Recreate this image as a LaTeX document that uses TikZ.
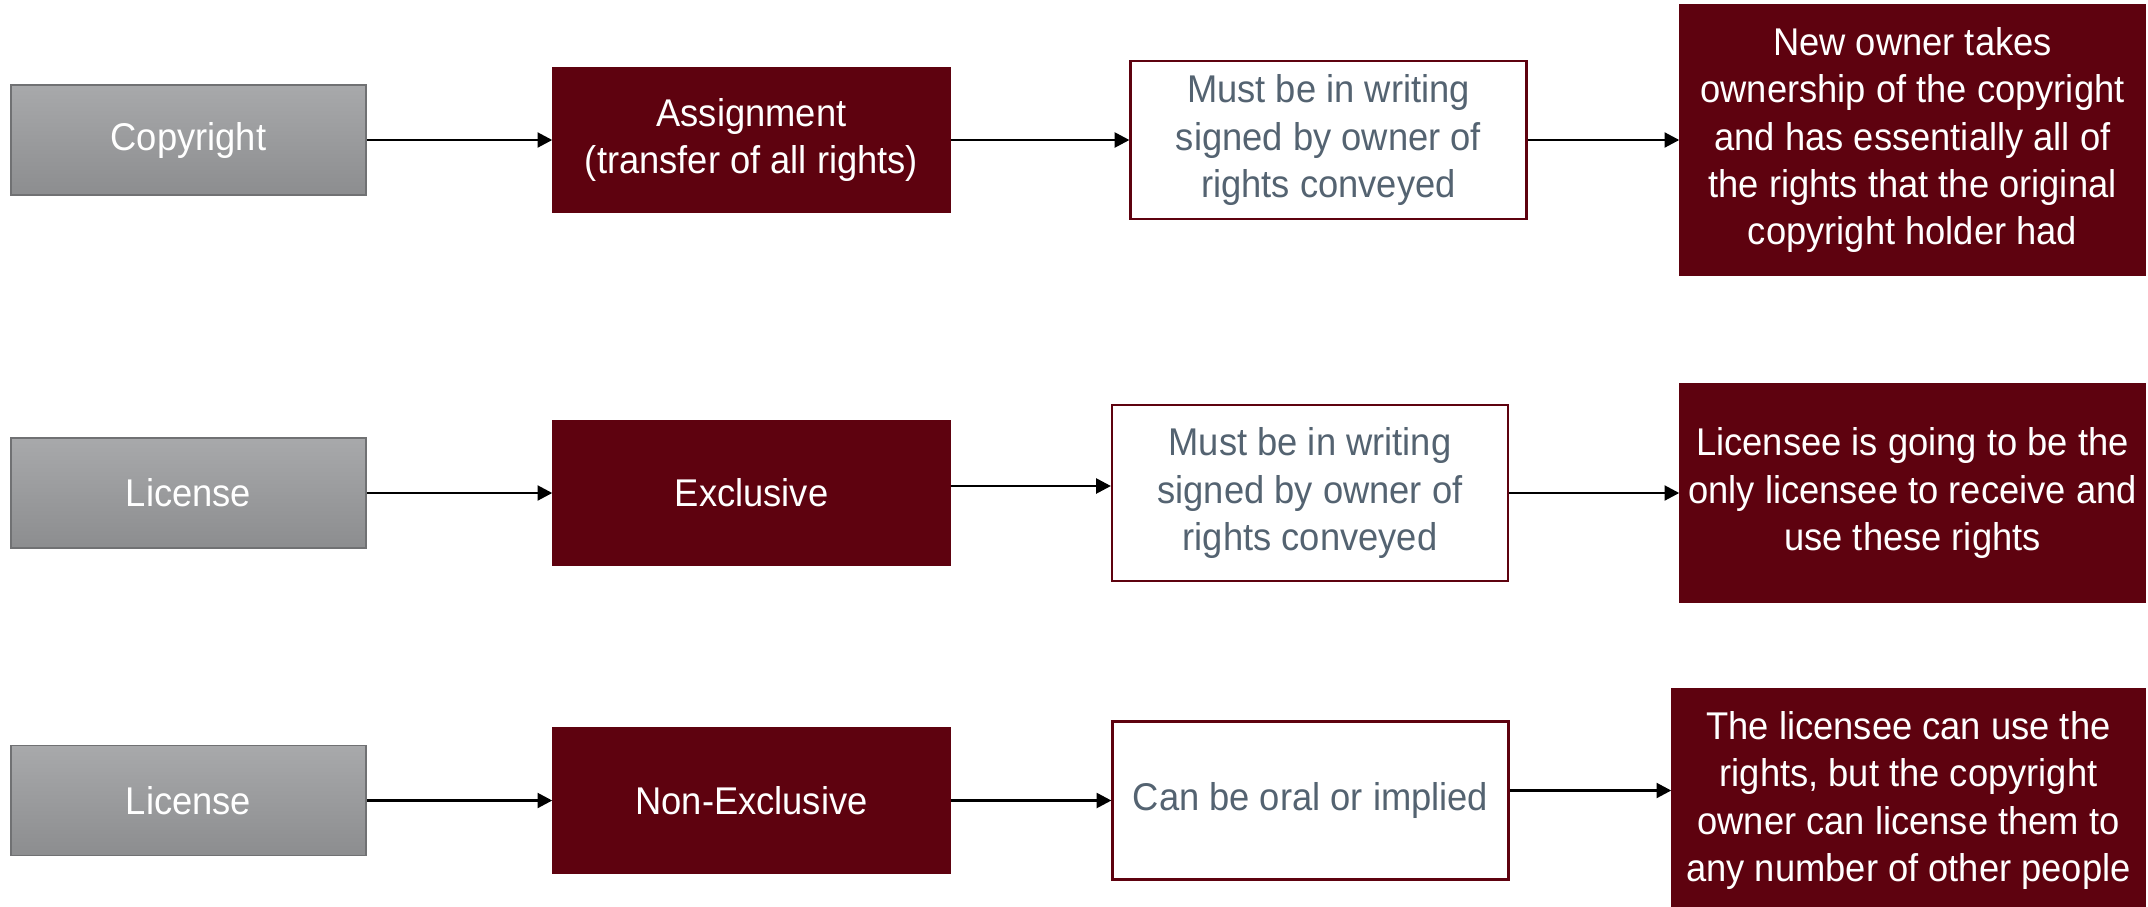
\documentclass[tikz,border=0pt]{standalone}
\usepackage{fontspec}
\setmainfont{Liberation Sans}[FakeStretch=0.94]
\usepackage{xcolor}
\usepackage{tikz}
\usetikzlibrary{positioning,arrows.meta}

\definecolor{wine}{RGB}{94,2,15}
\definecolor{slate}{RGB}{84,99,113}
\definecolor{srctop}{RGB}{168,169,171}
\definecolor{srcbot}{RGB}{140,141,143}
\definecolor{srcline}{RGB}{112,113,115}

\begin{document}
\begin{tikzpicture}[node distance=5.63cm,on grid,
    every node/.style={font=\fontsize{11}{13.5}\selectfont,align=center,inner sep=0pt},
    src/.style={rectangle,draw=srcline,line width=0.5pt,top color=srctop,bottom color=srcbot,
        text=white,minimum width=3.55cm,minimum height=1.1cm},
    act/.style={rectangle,fill=wine,draw=wine,text=white,minimum width=3.97cm,minimum height=1.45cm},
    req/.style={rectangle,fill=white,draw=wine,line width=0.6pt,text=slate,
        minimum width=3.96cm,minimum height=1.58cm},
    res/.style={rectangle,fill=wine,draw=wine,text=white,minimum width=4.65cm}]
	\useasboundingbox (0,0) rectangle (21.48,-9.06);

	% assignment
	\node[src] (cpy) at (1.885,-1.40) {Copyright};
	\node[act] (asg) [right=of cpy] {Assignment\\(transfer of all rights)};
	\node[req] (wr1) [right=5.77 of asg] {Must be in writing\\signed by owner of\\rights conveyed};
	\node[res, minimum height=2.71cm] (own) [right=5.84 of wr1] {New owner takes\\ownership of the copyright\\and has essentially all of\\the rights that the original\\copyright holder had};

	% exclusive license
	\node[src] (lic2) [below=3.53 of cpy] {License};
	\node[act] (exc) [right=of lic2] {Exclusive};
	\node[req, minimum height=1.76cm] (wr2) [right=5.585 of exc] {Must be in writing\\signed by owner of\\rights conveyed};
	\node[res, minimum height=2.18cm] (lics) [right=6.025 of wr2] {Licensee is going to be the\\only licensee to receive and\\use these rights};

	% non-exclusive license
	\node[src] (lic3) [below=3.075 of lic2] {License};
	\node[act] (nex) [right=of lic3] {Non-Exclusive};
	\node[req] (oral) [right=5.59 of nex] {Can be oral or implied};
	\node[res, minimum width=4.73cm, minimum height=2.24cm] (use) [right=5.98 of oral] {The licensee can use the\\rights, but the copyright\\owner can license them to\\any number of other people};

    \path[-{Triangle[length=4.2pt,width=4.2pt]},line width=0.8pt]
    	(cpy) edge (asg)
    	(asg) edge (wr1)
    	(wr1) edge (own)

    	(lic2) edge (exc)
    	([yshift=0.07cm]exc.east) edge ([yshift=0.07cm]wr2.west)
    	(wr2) edge (lics)

    	(lic3) edge (nex)
    	(nex) edge (oral)
    	([yshift=0.1cm]oral.east) edge ([yshift=0.1cm]use.west);

\end{tikzpicture}
\end{document}
